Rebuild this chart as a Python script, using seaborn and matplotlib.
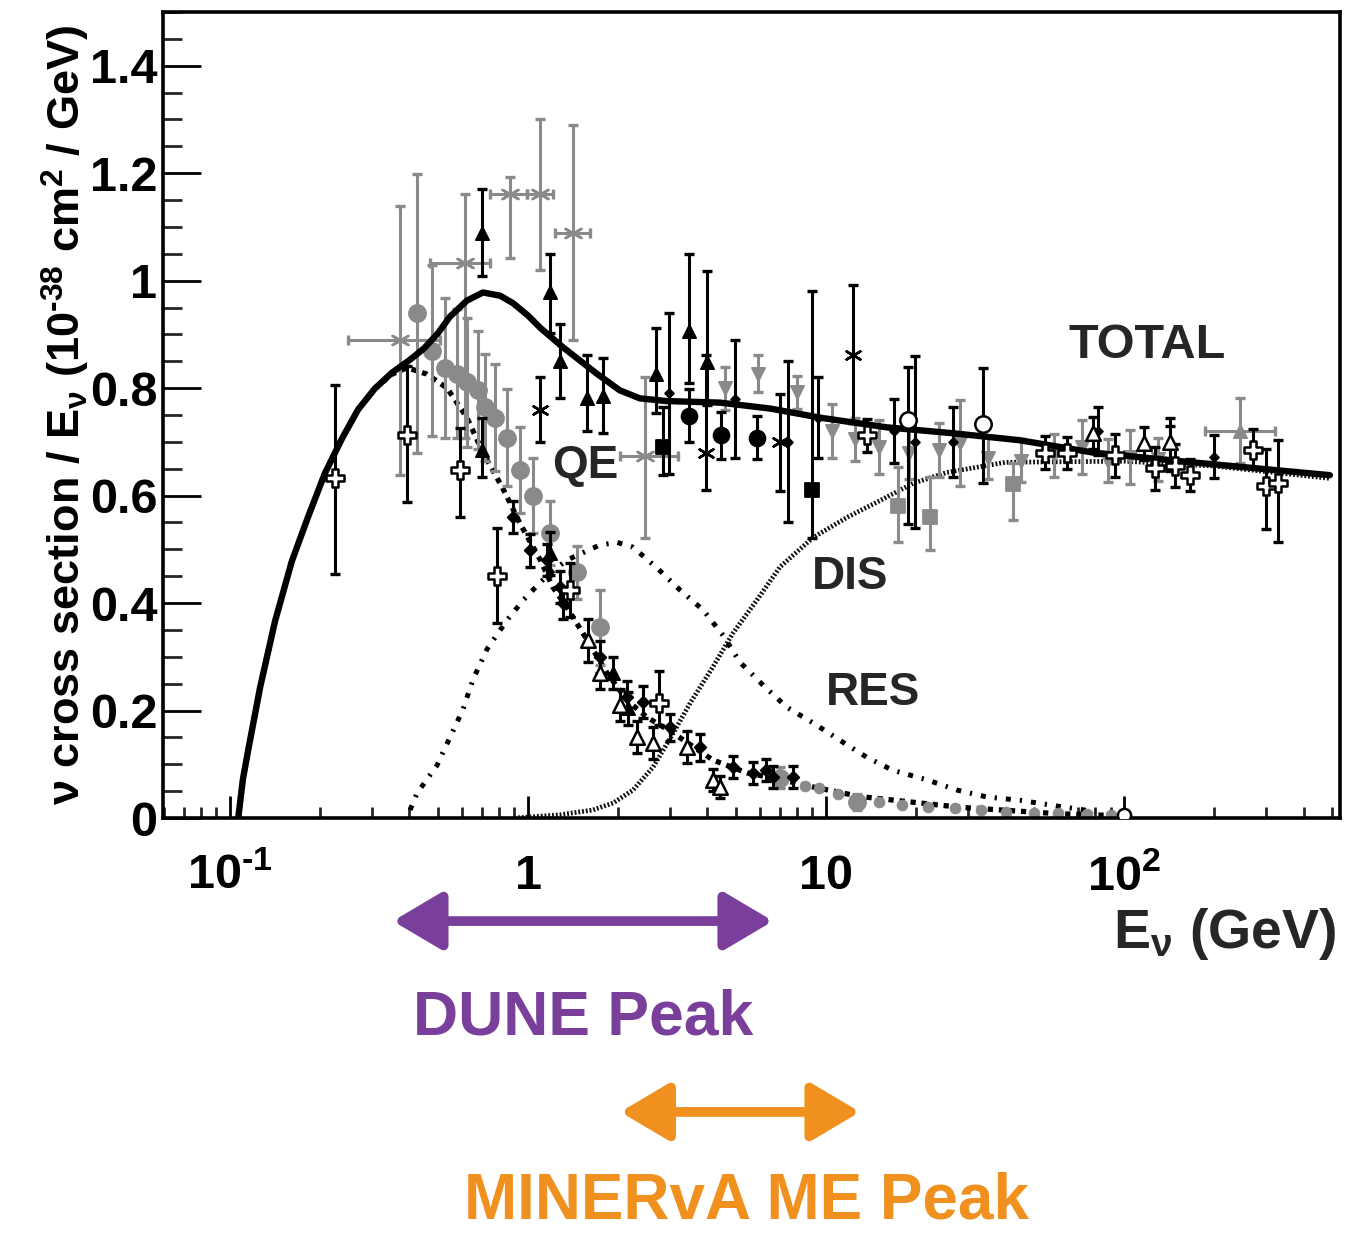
import numpy as np
import pandas as pd
import matplotlib
matplotlib.use("Agg")
import matplotlib.pyplot as plt
import seaborn as sns
from matplotlib.ticker import FixedLocator, FixedFormatter, LogLocator, NullFormatter, MultipleLocator

# ---------------- data ----------------
TOTAL_E = [0.1066, 0.1105, 0.1149, 0.1262, 0.1416, 0.1613, 0.183, 0.208, 0.2375, 0.269, 0.306, 0.35,
           0.40, 0.448, 0.50, 0.547, 0.624, 0.706, 0.806, 0.891, 1.0, 1.1, 1.31, 1.70, 2.03, 2.37, 2.9,
           4.41, 6.49, 9.55, 16.0, 26.7, 44.7, 78.8, 169.0, 490.0]
TOTAL_V = [0.0, 0.072, 0.124, 0.243, 0.366, 0.478, 0.561, 0.641, 0.706, 0.760, 0.799, 0.829,
           0.852, 0.874, 0.903, 0.933, 0.963, 0.978, 0.972, 0.958, 0.935, 0.912, 0.876, 0.827, 0.796,
           0.781, 0.776, 0.773, 0.762, 0.745, 0.727, 0.716, 0.703, 0.680, 0.662, 0.638]

QE_E = [0.1066, 0.1105, 0.1149, 0.1262, 0.1416, 0.1613, 0.183, 0.208, 0.2375, 0.269, 0.306, 0.35,
        0.393, 0.458, 0.535, 0.624, 0.706, 0.824, 0.94, 1.10, 1.21, 1.35, 1.58, 1.84, 2.15, 2.50, 3.07,
        4.17, 5.43, 7.0, 9.0, 13.0, 28.1, 60.0, 100.0]
QE_V = [0.0, 0.072, 0.124, 0.243, 0.366, 0.478, 0.561, 0.641, 0.706, 0.760, 0.799, 0.826,
        0.838, 0.826, 0.800, 0.745, 0.680, 0.613, 0.548, 0.480, 0.430, 0.392, 0.331, 0.270, 0.219,
        0.188, 0.158, 0.108, 0.084, 0.072, 0.058, 0.040, 0.020, 0.008, 0.004]

RES_E = [0.402, 0.424, 0.495, 0.547, 0.605, 0.654, 0.728, 0.85, 0.962, 1.097, 1.20, 1.35, 1.74, 1.99,
         2.25, 2.71, 3.24, 3.87, 4.51, 5.14, 6.15, 7.39, 9.04, 11.1, 13.7, 16.7, 21.8, 27.5, 34.7, 44.7,
         60.0, 80.0]
RES_V = [0.015, 0.046, 0.098, 0.150, 0.202, 0.258, 0.314, 0.368, 0.405, 0.438, 0.458, 0.480, 0.508, 0.513,
         0.504, 0.465, 0.424, 0.387, 0.340, 0.290, 0.247, 0.206, 0.177, 0.145, 0.113, 0.089, 0.071, 0.052,
         0.039, 0.033, 0.022, 0.012]

DIS_E = [0.9, 1.28, 1.65, 1.93, 2.25, 2.63, 3.07, 3.50, 4.17, 4.87, 5.85, 7.0, 9.04, 11.8, 15.2, 19.6,
         25.4, 40.0, 100.0, 200.0, 490.0]
DIS_V = [0.0, 0.006, 0.015, 0.028, 0.052, 0.095, 0.158, 0.214, 0.281, 0.344, 0.405, 0.467, 0.522, 0.560,
         0.591, 0.623, 0.643, 0.662, 0.664, 0.655, 0.632]

# black filled triangles
TRI_E = [0.70, 1.185, 1.28, 1.58, 1.785, 0.70, 1.185, 2.69, 3.47, 3.99, 1.93, 2.16]
TRI_V = [1.089, 0.978, 0.851, 0.781, 0.786, 0.684, 0.493, 0.827, 0.907, 0.848, 0.270, 0.204]
TRI_LO = [0.08, 0.076, 0.07, 0.06, 0.07, 0.05, 0.04, 0.074, 0.098, 0.08, 0.03, 0.03]
TRI_HI = [0.082, 0.072, 0.069, 0.08, 0.07, 0.06, 0.04, 0.084, 0.143, 0.17, 0.03, 0.03]

# grey asterisks (with energy bins)
AST_E = [0.372, 0.615, 0.870, 1.097, 1.42, 2.47]
AST_V = [0.889, 1.032, 1.162, 1.162, 1.089, 0.673]
AST_LO = [0.25, 0.324, 0.12, 0.143, 0.20, 0.151]
AST_HI = [0.25, 0.13, 0.03, 0.139, 0.20, 0.147]
AST_XLO = [0.123, 0.146, 0.125, 0.107, 0.19, 0.44]
AST_XHI = [0.135, 0.13, 0.12, 0.113, 0.19, 0.72]

# grey filled circles
GC_E = [0.424, 0.476, 0.527, 0.578, 0.624, 0.680, 0.717, 0.775, 0.850, 0.940, 1.04, 1.185, 1.46, 1.745,
        7.0, 12.7]
GC_V = [0.939, 0.870, 0.838, 0.827, 0.811, 0.796, 0.764, 0.745, 0.708, 0.647, 0.600, 0.530, 0.457, 0.355,
        0.075, 0.030]
GC_ERR = [0.26, 0.16, 0.13, 0.12, 0.12, 0.11, 0.10, 0.10, 0.09, 0.08, 0.07, 0.06, 0.05, 0.07, 0.02, 0.015]

# open crosses
OC_E = [0.225, 0.393, 0.591, 0.787, 1.38, 2.75, 13.7, 54.4, 64.3, 93.0, 127.0, 148.0, 166.0, 270.0,
        300.0, 328.0]
OC_V = [0.632, 0.712, 0.647, 0.450, 0.424, 0.214, 0.712, 0.680, 0.679, 0.675, 0.651, 0.656, 0.638, 0.684,
        0.617, 0.623]
OC_LO = [0.177, 0.123, 0.087, 0.088, 0.05, 0.04, 0.03, 0.03, 0.03, 0.04, 0.04, 0.04, 0.03, 0.03, 0.08, 0.11]
OC_HI = [0.173, 0.130, 0.078, 0.089, 0.05, 0.06, 0.03, 0.03, 0.03, 0.04, 0.04, 0.04, 0.03, 0.04, 0.07, 0.08]

# black filled circles
BC_E = [3.47, 4.44, 5.85]
BC_V = [0.749, 0.712, 0.708]
BC_ERR = [0.05, 0.043, 0.04]

# small black points along the QE fall-off
QB_E = [0.891, 1.015, 1.16, 1.28, 1.31, 1.745, 2.15, 2.43, 3.0, 3.78, 4.87, 5.69, 6.3, 6.63, 7.75]
QB_V = [0.560, 0.498, 0.480, 0.430, 0.400, 0.300, 0.225, 0.216, 0.169, 0.132, 0.095, 0.084, 0.089, 0.076, 0.076]
QB_ERR = [0.03, 0.03, 0.03, 0.03, 0.03, 0.03, 0.03, 0.03, 0.025, 0.025, 0.02, 0.02, 0.02, 0.02, 0.02]

# open triangles
OT_E = [1.59, 1.745, 2.03, 2.32, 2.63, 3.41, 4.17, 4.41, 78.8, 117.0, 142.0]
OT_V = [0.331, 0.270, 0.210, 0.151, 0.139, 0.132, 0.071, 0.058, 0.716, 0.697, 0.699]
OT_ERR = [0.04, 0.03, 0.03, 0.03, 0.03, 0.03, 0.02, 0.02, 0.03, 0.03, 0.03]

# black squares
BS_E = [2.84, 8.97]
BS_V = [0.690, 0.610]
BS_LO = [0.052, 0.088]
BS_HI = [0.074, 0.37]

# grey squares
GS_E = [17.4, 22.3, 42.4]
GS_V = [0.580, 0.560, 0.621]
GS_LO = [0.067, 0.062, 0.067]
GS_HI = [0.073, 0.074, 0.039]

# grey down triangles
GD_E = [4.58, 5.9, 7.98, 10.5, 12.5, 15.0, 19.0, 24.0, 28.2, 35.0, 45.0, 58.0, 72.0, 88.0, 105.0, 130.0]
GD_V = [0.800, 0.827, 0.792, 0.720, 0.705, 0.690, 0.680, 0.685, 0.697, 0.670, 0.665, 0.675, 0.690, 0.665,
        0.672, 0.668]
GD_ERR = [0.04, 0.035, 0.03, 0.05, 0.04, 0.05, 0.05, 0.05, 0.08, 0.04, 0.04, 0.04, 0.05, 0.04, 0.05, 0.04]

# grey point with energy bin at high energy
GT_E = [245.0]
GT_V = [0.721]
GT_ERR = [0.06]
GT_XLO = [58.0]
GT_XHI = [75.0]

# open circles
OCI_E = [18.8, 33.6]
OCI_V = [0.740, 0.734]
OCI_LO = [0.193, 0.111]
OCI_HI = [0.10, 0.104]

# black x markers
BX_E = [1.097, 3.96, 7.0, 12.3]
BX_V = [0.759, 0.679, 0.699, 0.861]
BX_LO = [0.06, 0.069, 0.09, 0.125]
BX_HI = [0.061, 0.182, 0.09, 0.13]

# black points hidden under the curve
BH_E = [2.97, 4.95, 7.45, 9.41, 16.9, 19.9, 26.7, 81.6, 142.0, 200.0]
BH_V = [0.79, 0.78, 0.70, 0.745, 0.72, 0.70, 0.70, 0.72, 0.695, 0.672]
BH_ERR = [0.15, 0.11, 0.15, 0.075, 0.06, 0.16, 0.065, 0.045, 0.05, 0.04]

# grey QE tail at high energy
GQ_E = [8.5, 9.5, 11.0, 15.0, 18.0, 22.0, 27.0, 33.0, 40.0, 50.0, 60.0, 75.0, 90.0]
GQ_V = [0.060, 0.055, 0.045, 0.030, 0.025, 0.020, 0.018, 0.015, 0.012, 0.010, 0.010, 0.008, 0.006]

DUNE_RANGE = [0.352, 6.64]
MINERVA_RANGE = [2.04, 13.0]

Y_TICKS = [0, 0.2, 0.4, 0.6, 0.8, 1.0, 1.2, 1.4]
Y_LABELS = ['0', '0.2', '0.4', '0.6', '0.8', '1', '1.2', '1.4']
X_TICKS = [0.1, 1, 10, 100]
X_LABELS = [r'$10^{\text{-}1}$', '1', '10', r'$10^{2}$']

# ---------------- style ----------------
sns.set_theme(style="white")
plt.rcParams['font.family'] = ['Liberation Sans', 'DejaVu Sans']
plt.rcParams['font.weight'] = 'bold'
plt.rcParams['mathtext.fontset'] = 'custom'
plt.rcParams['mathtext.rm'] = 'Liberation Sans:bold'
plt.rcParams['mathtext.it'] = 'Liberation Sans:bold'
plt.rcParams['mathtext.bf'] = 'Liberation Sans:bold'
plt.rcParams['mathtext.sf'] = 'Liberation Sans:bold'

GREY = '#8a8a8a'
PURPLE = '#7a3f9b'
ORANGE = '#f0901e'

fig = plt.figure(figsize=(13.65, 12.34), dpi=100)
ax = fig.add_axes([0.1194, 0.3371, 0.8623, 0.6532])
ax.set_xscale('log')

# ---------------- curves ----------------
sns.lineplot(x=DIS_E, y=DIS_V, ax=ax, color='#111111', lw=3.4, linestyle=(0, (0.4, 0.4)),
             estimator=None, sort=False, zorder=1)
sns.lineplot(x=RES_E, y=RES_V, ax=ax, color='black', lw=3.6, linestyle=(0, (1.0, 1.8, 0.45, 1.8)),
             estimator=None, sort=False, zorder=1)
sns.lineplot(x=QE_E, y=QE_V, ax=ax, color='black', lw=3.8, linestyle=(0, (1.0, 1.1)),
             estimator=None, sort=False, zorder=1)


def draw(E, V, lo, hi, marker, face, edge, size, ecol, lw=1.3, xlo=None, xhi=None, z=3, ew=2.2):
    xerr = None if xlo is None else [xlo, xhi]
    ax.errorbar(E, V, yerr=[lo, hi], xerr=xerr, fmt='none', ecolor=ecol, elinewidth=ew,
                capsize=3.5, capthick=2.4, zorder=z)
    sns.scatterplot(x=E, y=V, ax=ax, marker=marker, color=face, edgecolor=edge, s=size,
                    linewidth=lw, zorder=z + 0.1, legend=False)


# grey series first
draw(AST_E, AST_V, AST_LO, AST_HI, (6, 2, 0), GREY, GREY, 170, GREY, lw=1.8,
     xlo=AST_XLO, xhi=AST_XHI, z=2)
draw(GC_E, GC_V, GC_ERR, GC_ERR, 'o', GREY, GREY, 150, GREY, z=2)
draw(GD_E, GD_V, GD_ERR, GD_ERR, 'v', GREY, GREY, 90, GREY, z=2)
draw(GS_E, GS_V, GS_LO, GS_HI, 's', GREY, GREY, 110, GREY, z=2)
draw(GT_E, GT_V, GT_ERR, GT_ERR, '^', GREY, GREY, 90, GREY, xlo=GT_XLO, xhi=GT_XHI, z=2)
sns.scatterplot(x=GQ_E, y=GQ_V, ax=ax, marker='o', color=GREY, edgecolor=GREY, s=60, zorder=2,
                legend=False)

# total curve
sns.lineplot(x=TOTAL_E, y=TOTAL_V, ax=ax, color='black', lw=4.6, estimator=None, sort=False, zorder=3)

# black series
draw(BH_E, BH_V, BH_ERR, BH_ERR, 'D', 'black', 'black', 20, 'black', z=3.5)
draw(QB_E, QB_V, QB_ERR, QB_ERR, 'D', 'black', 'black', 35, 'black', z=3.5)
draw(TRI_E, TRI_V, TRI_LO, TRI_HI, '^', 'black', 'black', 90, 'black', z=4)
draw(OC_E, OC_V, OC_LO, OC_HI, 'P', 'white', 'black', 170, 'black', lw=1.8, z=4)
draw(BC_E, BC_V, BC_ERR, BC_ERR, 'o', 'black', 'black', 130, 'black', z=4)
draw(OT_E, OT_V, OT_ERR, OT_ERR, '^', 'white', 'black', 110, 'black', lw=1.8, z=4)
draw(BS_E, BS_V, BS_LO, BS_HI, 's', 'black', 'black', 110, 'black', z=4)
draw(OCI_E, OCI_V, OCI_LO, OCI_HI, 'o', 'white', 'black', 140, 'black', lw=1.8, z=4)
draw(BX_E, BX_V, BX_LO, BX_HI, (6, 2, 0), 'black', 'black', 130, 'black', lw=1.8, z=4)
sns.scatterplot(x=[100.0], y=[0.005], ax=ax, marker='o', color='white', edgecolor='black', s=90,
                linewidth=1.8, zorder=4, legend=False)

# ---------------- axes ----------------
ax.set_xlim(0.0596, 530)
ax.set_ylim(0, 1.5)
ax.yaxis.set_major_locator(FixedLocator(Y_TICKS))
ax.yaxis.set_major_formatter(FixedFormatter(Y_LABELS))
ax.yaxis.set_minor_locator(MultipleLocator(0.05))
ax.xaxis.set_major_locator(FixedLocator(X_TICKS))
ax.xaxis.set_major_formatter(FixedFormatter(X_LABELS))
ax.xaxis.set_minor_locator(LogLocator(base=10, subs=range(2, 10), numticks=30))
ax.xaxis.set_minor_formatter(NullFormatter())

ax.tick_params(axis='y', which='major', direction='in', length=27, width=2.0, labelsize=35, pad=4,
               left=True, right=False, colors='black')
ax.tick_params(axis='y', which='minor', direction='in', length=14, width=2.0, left=True, right=False)
ax.tick_params(axis='x', which='major', direction='in', length=16, width=2.0, labelsize=35, pad=26,
               bottom=True, top=False, colors='black')
ax.tick_params(axis='x', which='minor', direction='in', length=8, width=2.0, bottom=True, top=False)
for lab in ax.get_xticklabels() + ax.get_yticklabels():
    lab.set_fontweight('bold')

for side, sp in ax.spines.items():
    sp.set_color('black')
    sp.set_linewidth(2.6)
ax.grid(False)

ax.set_ylabel(r'$\nu$ cross section / E$_{\nu}$ (10$^{\text{-}38}$ cm$^{2}$ / GeV)', fontsize=32.5,
              fontweight='bold', color='black')
ax.yaxis.set_label_coords(-0.06, 0.5)
ax.set_xlabel('')
fig.text(0.979, 0.243, r'E$_{\nu}$ (GeV)', fontsize=40, fontweight='bold', ha='right', va='center')

# curve labels
ax.text(1.553, 0.656, 'QE', fontsize=33, fontweight='bold', ha='center', va='center')
ax.text(119.5, 0.879, 'TOTAL', fontsize=35, fontweight='bold', ha='center', va='center')
ax.text(12.0, 0.448, 'DIS', fontsize=33, fontweight='bold', ha='center', va='center')
ax.text(14.4, 0.232, 'RES', fontsize=33, fontweight='bold', ha='center', va='center')

# peak arrows
ax.annotate('', xy=(DUNE_RANGE[1], 0.2536), xytext=(DUNE_RANGE[0], 0.2536),
            xycoords=('data', 'figure fraction'), textcoords=('data', 'figure fraction'),
            annotation_clip=False,
            arrowprops=dict(arrowstyle='<|-|>,head_length=1.35,head_width=0.8', color=PURPLE, lw=7,
                            shrinkA=0, shrinkB=0, mutation_scale=22))
ax.annotate('', xy=(MINERVA_RANGE[1], 0.0989), xytext=(MINERVA_RANGE[0], 0.0989),
            xycoords=('data', 'figure fraction'), textcoords=('data', 'figure fraction'),
            annotation_clip=False,
            arrowprops=dict(arrowstyle='<|-|>,head_length=1.35,head_width=0.8', color=ORANGE, lw=7,
                            shrinkA=0, shrinkB=0, mutation_scale=22))
fig.text(0.427, 0.175, 'DUNE Peak', fontsize=45, fontweight='bold', color=PURPLE, ha='center', va='center')
fig.text(0.5465, 0.026, 'MINERvA ME Peak', fontsize=46, fontweight='bold', color=ORANGE, ha='center',
         va='center')

fig.savefig('out.png', dpi=100)
